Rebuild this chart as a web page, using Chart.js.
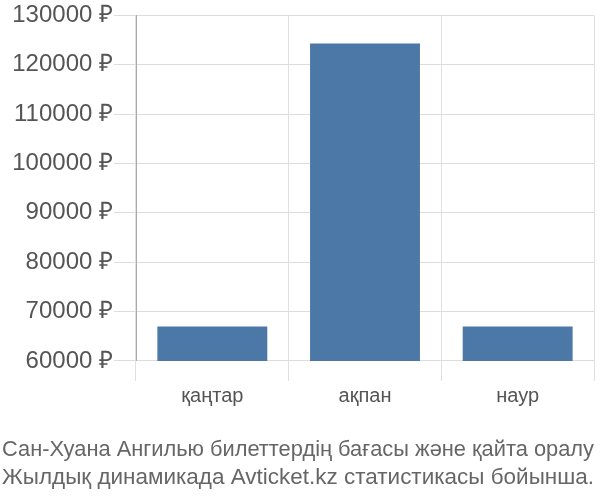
<!DOCTYPE html>
<html>
<head>
<meta charset="utf-8">
<script src="https://cdn.jsdelivr.net/npm/chart.js@4"></script>
<style>
  body { margin: 0; background: #fff; }
  #wrap { width: 600px; height: 500px; }
</style>
</head>
<body>
<div id="wrap"><canvas id="priceChart" width="600" height="500"></canvas></div>
<script>
// months and ticket prices (rub)
const months = ['қаңтар', 'ақпан', 'наур'];
const prices = [67000, 124300, 67000];
const yMin = 60000;
const yMax = 130000;
const yStep = 10000;
const captionLines = [
  'Сан-Хуана Ангилью билеттердің бағасы және қайта оралу',
  'Жылдық динамикада Avticket.kz статистикасы бойынша.'
];

const fontName = '"Liberation Sans", Arial, sans-serif';

new Chart(document.getElementById('priceChart'), {
  type: 'bar',
  data: {
    labels: months,
    datasets: [{
      data: prices,
      backgroundColor: '#4c78a8',
      categoryPercentage: 0.72,
      barPercentage: 1.0
    }]
  },
  options: {
    responsive: false,
    animation: false,
    layout: { padding: { top: 2, right: 6, left: 2, bottom: 0 } },
    plugins: {
      legend: { display: false },
      tooltip: { enabled: false },
      title: {
        display: true,
        position: 'bottom',
        align: 'start',
        text: captionLines,
        color: '#666',
        font: { family: fontName, size: 22.6, weight: 'normal', lineHeight: 1.24 },
        padding: { top: 23, bottom: 8 }
      }
    },
    scales: {
      x: {
        grid: { color: '#e0e0e0', offset: true, tickLength: 20, drawTicks: true },
        border: { display: false },
        ticks: { color: '#555', font: { family: fontName, size: 20 }, padding: 4 }
      },
      y: {
        min: yMin,
        max: yMax,
        afterFit: scale => { scale.width = 134; },
        ticks: {
          stepSize: yStep,
          color: '#555',
          font: { family: fontName, size: 24 },
          padding: 1,
          callback: v => v + ' ₽'
        },
        grid: { color: '#dddddd', tickLength: 22 },
        border: { color: '#aaa' }
      }
    }
  }
});
</script>
</body>
</html>
